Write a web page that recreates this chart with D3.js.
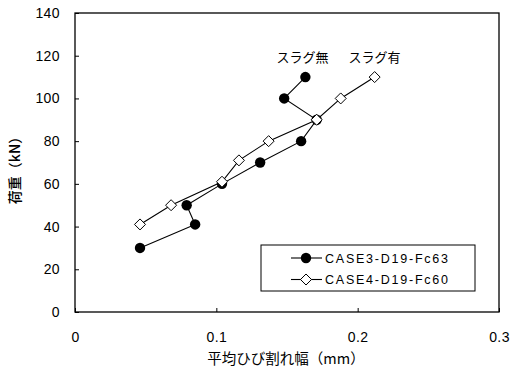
<!DOCTYPE html>
<html><head><meta charset="utf-8">
<script src="https://cdn.jsdelivr.net/npm/d3@7"></script>
<style>body{margin:0;background:#fff}svg{display:block}text{font-family:"Liberation Sans","Noto Sans CJK JP",sans-serif;fill:#000}</style>
</head><body>
<svg id="c" width="510" height="372"></svg>
<script>
const xTicks = [0, 0.1, 0.2, 0.3];
const yTicks = [0, 20, 40, 60, 80, 100, 120, 140];
const case3X = [0.046, 0.085, 0.079, 0.104, 0.131, 0.160, 0.171, 0.148, 0.163];
const case3Y = [30, 41, 50, 60, 70, 80, 90, 100, 110];
const case4X = [0.046, 0.068, 0.104, 0.116, 0.137, 0.171, 0.188, 0.212];
const case4Y = [41, 50, 61, 71, 80, 90, 100, 110];
const seriesNames = ["CASE3-D19-Fc63", "CASE4-D19-Fc60"];
const annotations = [{text: "スラグ無", x: 0.161, y: 117}, {text: "スラグ有", x: 0.212, y: 117}];

const svg = d3.select("#c");
const L = 75, R = 499, T = 13, B = 312;
const x = d3.scaleLinear().domain([0, 0.3]).range([L, R]);
const y = d3.scaleLinear().domain([0, 140]).range([B, T]);

svg.append("rect").attr("x", L).attr("y", T).attr("width", R - L).attr("height", B - T)
  .attr("fill", "none").attr("stroke", "#000").attr("stroke-width", 1.3);

const ya = svg.append("g").attr("transform", `translate(${L},0)`)
  .call(d3.axisLeft(y).tickValues(yTicks).tickSize(-4).tickPadding(15).tickFormat(d3.format("d")));
const xa = svg.append("g").attr("transform", `translate(0,${B})`)
  .call(d3.axisBottom(x).tickValues(xTicks).tickSize(-4).tickPadding(20).tickFormat(d => d === 0 ? "0" : d3.format(".1f")(d)));
[ya, xa].forEach(a => {
  a.select(".domain").remove();
  a.selectAll("line").attr("stroke", "#000");
  a.selectAll("text").attr("font-size", 14).attr("letter-spacing", 0.4)
    .style("font-family", '"Liberation Sans",sans-serif');
});

svg.append("text").attr("transform", `translate(20,${167}) rotate(-90)`)
  .attr("text-anchor", "middle").attr("font-size", 14).attr("font-weight", 500)
  .style("font-family", '"Noto Sans CJK JP",sans-serif').text("荷重（kN）");
svg.append("text").attr("x", 286).attr("y", 364)
  .attr("text-anchor", "middle").attr("font-size", 14.5)
  .style("font-family", '"Noto Sans CJK JP",sans-serif').text("平均ひび割れ幅（mm）");

const line = d3.line().x(d => x(d[0])).y(d => y(d[1]));
const d3s = case3X.map((v, i) => [v, case3Y[i]]);
const d4s = case4X.map((v, i) => [v, case4Y[i]]);
svg.append("path").attr("d", line(d3s)).attr("fill", "none").attr("stroke", "#000").attr("stroke-width", 1.1);
svg.append("path").attr("d", line(d4s)).attr("fill", "none").attr("stroke", "#000").attr("stroke-width", 1.1);

function drawCircle(g, cx, cy) {
  g.append("circle").attr("cx", cx).attr("cy", cy).attr("r", 5.2).attr("fill", "#000");
}
function drawDiamond(g, cx, cy) {
  g.append("path").attr("d", "M0,-5.5L5.5,0L0,5.5L-5.5,0Z").attr("transform", `translate(${cx},${cy})`)
    .attr("fill", "#fff").attr("stroke", "#000").attr("stroke-width", 1);
}
d3s.forEach(d => drawCircle(svg, x(d[0]), y(d[1])));
d4s.forEach(d => drawDiamond(svg, x(d[0]), y(d[1])));

annotations.forEach(a => svg.append("text").attr("x", x(a.x)).attr("y", y(a.y))
  .attr("text-anchor", "middle").attr("font-size", 13)
  .style("font-family", '"Noto Sans CJK JP",sans-serif').text(a.text));

// legend
const lg = svg.append("g");
lg.append("rect").attr("x", 261).attr("y", 245).attr("width", 214).attr("height", 46)
  .attr("fill", "#fff").attr("stroke", "#000").attr("stroke-width", 1);
seriesNames.forEach((n, i) => {
  const ry = 258 + i * 21.5;
  lg.append("line").attr("x1", 291).attr("x2", 322).attr("y1", ry).attr("y2", ry).attr("stroke", "#000").attr("stroke-width", 1.1);
  if (i === 0) drawCircle(lg, 306, ry); else drawDiamond(lg, 306, ry);
  lg.append("text").attr("x", 325).attr("y", ry + 4.5).attr("font-size", 12.5)
    .attr("textLength", 123).attr("lengthAdjust", "spacing")
    .style("font-family", '"Liberation Sans",sans-serif').text(n);
});
</script>
</body></html>
